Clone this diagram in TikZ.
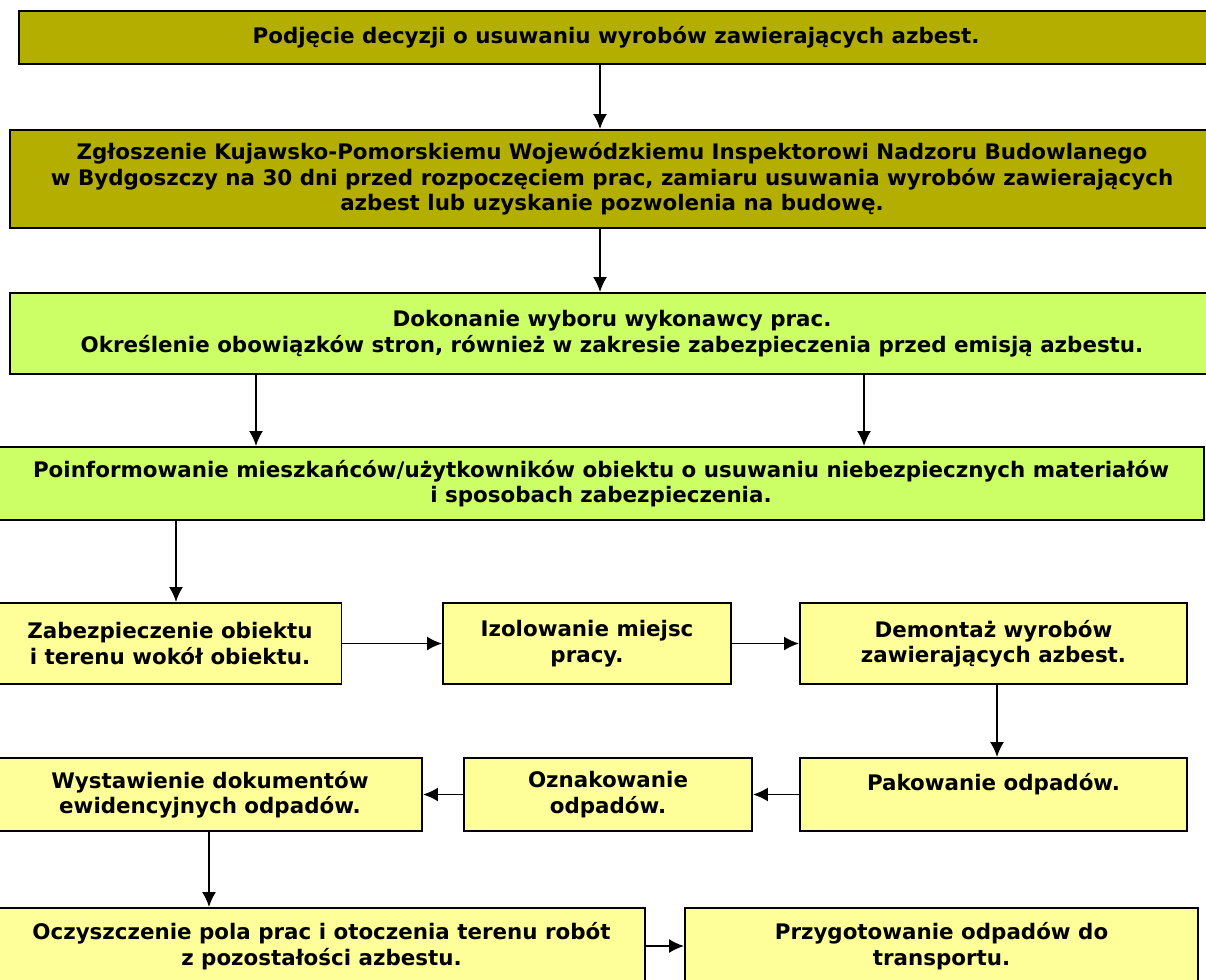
\documentclass[tikz,border=0pt]{standalone}
\usepackage{fontspec}
\setmainfont{DejaVu Sans}
\usepackage{tikz}
\usetikzlibrary{shapes, arrows.meta, positioning}
\usepackage{xcolor}

\definecolor{oliwka}{RGB}{179,174,0}
\definecolor{zielony}{RGB}{204,255,102}
\definecolor{zolty}{RGB}{255,255,153}

\tikzset{
    krok/.style={draw, rectangle, line width=1.9pt, align=center,
        inner sep=0pt, font=\bfseries\fontsize{21.4}{25.5}\selectfont},
}

\begin{document}
\begin{tikzpicture}[x=1pt, y=-1pt, line width=1.9pt,
    >={Latex[length=15pt,width=14pt]}]

\useasboundingbox (0,0) rectangle (1206,979);

\node[krok, fill=oliwka,
    minimum width=1194pt,
    minimum height=53pt] (decyzja) at (616,37.5)
    {Podjęcie decyzji o usuwaniu wyrobów zawierających azbest.};

\node[krok, fill=oliwka,
    minimum width=1204pt,
    minimum height=98pt] (zgloszenie) at (612,179)
    {Zgłoszenie Kujawsko-Pomorskiemu Wojewódzkiemu Inspektorowi Nadzoru Budowlanego\\
     w Bydgoszczy na 30 dni przed rozpoczęciem prac, zamiaru usuwania wyrobów zawierających\\
     azbest lub uzyskanie pozwolenia na budowę.};

\node[krok, fill=zielony,
    minimum width=1204pt,
    minimum height=81pt] (wybor) at (612,333.5)
    {Dokonanie wyboru wykonawcy prac.\\
     Określenie obowiązków stron, również w zakresie zabezpieczenia przed emisją azbestu.};

\node[krok, fill=zielony,
    minimum width=1206pt,
    minimum height=73pt] (info) at (601,483.5)
    {Poinformowanie mieszkańców/użytkowników obiektu o usuwaniu niebezpiecznych materiałów\\
     i sposobach zabezpieczenia.};

% rzad 1
\node[krok, fill=zolty,
    minimum width=343pt,
    minimum height=81pt] (zabezp) at (170,643.5)
    {Zabezpieczenie obiektu\\ i terenu wokół obiektu.};

\node[krok, fill=zolty,
    minimum width=288pt,
    minimum height=81pt] (izol) at (587,643.5)
    {Izolowanie miejsc\\ pracy.};

\node[krok, fill=zolty,
    minimum width=387pt,
    minimum height=81pt] (demontaz) at (993.5,643.5)
    {Demontaż wyrobów\\ zawierających azbest.};

% rzad 2
\node[krok, fill=zolty,
    minimum width=424pt,
    minimum height=73pt] (ewid) at (210,794.5)
    {Wystawienie dokumentów\\ ewidencyjnych odpadów.};

\node[krok, fill=zolty,
    minimum width=288pt,
    minimum height=73pt] (oznak) at (608,794.5)
    {Oznakowanie\\ odpadów.};

\node[krok, fill=zolty,
    minimum width=387pt,
    minimum height=73pt] (pakow) at (993.5,794.5)
    {Pakowanie odpadów.\\ ~};

% rzad 3
\node[krok, fill=zolty,
    minimum width=647pt,
    minimum height=76pt] (oczyszcz) at (321.5,946)
    {Oczyszczenie pola prac i otoczenia terenu robót\\ z pozostałości azbestu.};

\node[krok, fill=zolty,
    minimum width=513pt,
    minimum height=76pt] (transport) at (941.5,946)
    {Przygotowanie odpadów do\\ transportu.};

% Arrows
\coordinate (s1) at (600,0);
\coordinate (s2) at (256,0);
\coordinate (s3) at (864,0);
\coordinate (s4) at (176,0);
\coordinate (s5) at (997,0);
\coordinate (s6) at (209,0);
\draw [->] (decyzja.south -| s1) -- (zgloszenie.north -| s1);
\draw [->] (zgloszenie.south -| s1) -- (wybor.north -| s1);
\draw [->] (wybor.south -| s2) -- (info.north -| s2);
\draw [->] (wybor.south -| s3) -- (info.north -| s3);
\draw [->] (info.south -| s4) -- (zabezp.north -| s4);
\draw [->] (zabezp) -- (izol);
\draw [->] (izol) -- (demontaz);
\draw [->] (demontaz.south -| s5) -- (pakow.north -| s5);
\draw [->] (pakow) -- (oznak);
\draw [->] (oznak) -- (ewid);
\draw [->] (ewid.south -| s6) -- (oczyszcz.north -| s6);
\draw [->] (oczyszcz) -- (transport);
\end{tikzpicture}
\end{document}
